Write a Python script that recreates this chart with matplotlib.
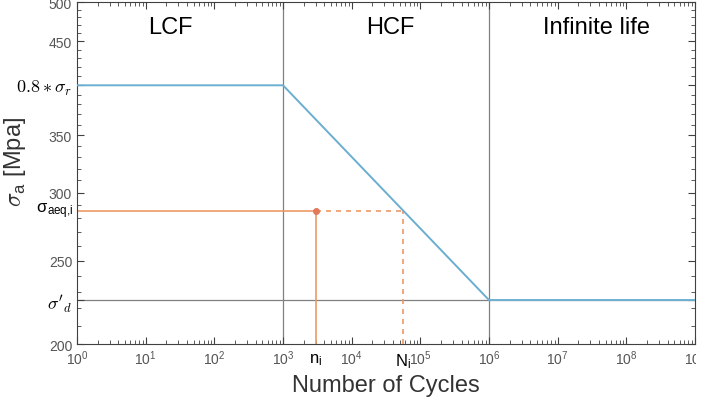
import numpy as np
import matplotlib
matplotlib.use('Agg')
import matplotlib.pyplot as plt
from matplotlib.ticker import FixedLocator, NullFormatter, LogLocator
from matplotlib.patches import Rectangle

plt.rcParams['mathtext.fontset'] = 'cm'
plt.rcParams['font.family'] = ['Liberation Sans', 'DejaVu Sans']

## data
sn_cycles   = [1e0, 1e3, 1e6, 1e9]
sn_stress   = [400, 400, 225, 225]
region_edges = [1e3, 1e6]
sigma_d     = 225
sigma_aeq   = 286
n_i         = 3.0e3
N_i         = 5.6e4
region_names = ['LCF', 'HCF', 'Infinite life']
region_x     = [2.3e1, 3.6e4, 3.7e7]
ytick_vals   = [200, 225, 250, 300, 350, 400, 450, 500]
ytick_labels = ['200', r"$\sigma'_d$", '250', '300', '350', r'$0.8*\sigma_r$', '450', '500']

blue   = '#6aaed0'
orange = '#ec9a66'
grey   = '#808080'

fig = plt.figure(figsize=(7.17, 4.06), dpi=100)
ax = fig.add_axes([0.1074, 0.1502, 0.8619, 0.8424])
ax.set_xscale('log')
ax.set_yscale('log')
ax.set_xlim(1e0, 1e9)
ax.set_ylim(200, 500)

# region separators and endurance level
for xe in region_edges:
	ax.axvline(xe, color=grey, lw=0.9, zorder=1)
ax.axhline(sigma_d, color=grey, lw=0.9, zorder=1)

# S-N curve
ax.plot(sn_cycles, sn_stress, color=blue, lw=1.4, zorder=3)

# equivalent stress construction
ax.plot([1e0, n_i], [sigma_aeq, sigma_aeq], color=orange, lw=1.2, zorder=2)
ax.plot([n_i, n_i], [200, sigma_aeq], color=orange, lw=1.2, zorder=2)
ax.plot([n_i, N_i], [sigma_aeq, sigma_aeq], color=orange, lw=1.2, ls=(0, (3, 3)), zorder=2)
ax.plot([N_i, N_i], [200, sigma_aeq], color=orange, lw=1.2, ls=(0, (3, 3)), zorder=2)
ax.plot([n_i], [sigma_aeq], 'o', color='#e07a5a', ms=4, zorder=4)

for name, xr in zip(region_names, region_x):
	ax.text(xr, 467, name, ha='center', va='center', fontsize=17, color='black')

# ticks
ax.yaxis.set_major_locator(FixedLocator(ytick_vals))
ax.set_yticklabels(ytick_labels)
ax.yaxis.set_minor_locator(FixedLocator([v for v in range(200, 501, 10) if v not in ytick_vals]))
ax.yaxis.set_minor_formatter(NullFormatter())
ax.xaxis.set_major_locator(FixedLocator([10.0**k for k in range(10)]))
ax.xaxis.set_minor_locator(LogLocator(base=10, subs=np.arange(2, 10)))
ax.xaxis.set_minor_formatter(NullFormatter())
ax.tick_params(which='both', direction='in', top=True, right=True, colors='#404040', labelcolor='#555555', labelsize=10)
ax.tick_params(which='major', length=5)
ax.tick_params(which='minor', length=3)
for lab, v in zip(ax.get_yticklabels(), ytick_vals):
	if v in (225, 400):
		lab.set_color('black')
		lab.set_fontsize(13)
for sp in ax.spines.values():
	sp.set_color('#404040')
	sp.set_linewidth(0.8)

# extra annotation labels
ax.text(-0.005, sigma_aeq, r'σ$_{\mathregular{aeq{,}i}}$', transform=ax.get_yaxis_transform(),
	ha='right', va='center', fontsize=12, color='black')
ax.text(n_i, 196, r'n$_{\mathregular{i}}$', ha='center', va='top', fontsize=12, color='black')
ax.text(N_i, 196, r'N$_{\mathregular{i}}$', ha='center', va='top', fontsize=12, color='black')

ax.set_xlabel('Number of Cycles', fontsize=17, color='#333333', labelpad=5)
ax.set_ylabel(r'$\sigma_{\mathregular{a}}$ [Mpa]', fontsize=17, color='#333333')
ax.yaxis.set_label_coords(-0.079, 0.535)

# the source picture is cropped at the right spine
fig.patches.append(Rectangle((0.971, 0.0), 0.03, 0.148, transform=fig.transFigure,
	facecolor='white', edgecolor='none', zorder=10))

fig.savefig('out.png', dpi=100)
